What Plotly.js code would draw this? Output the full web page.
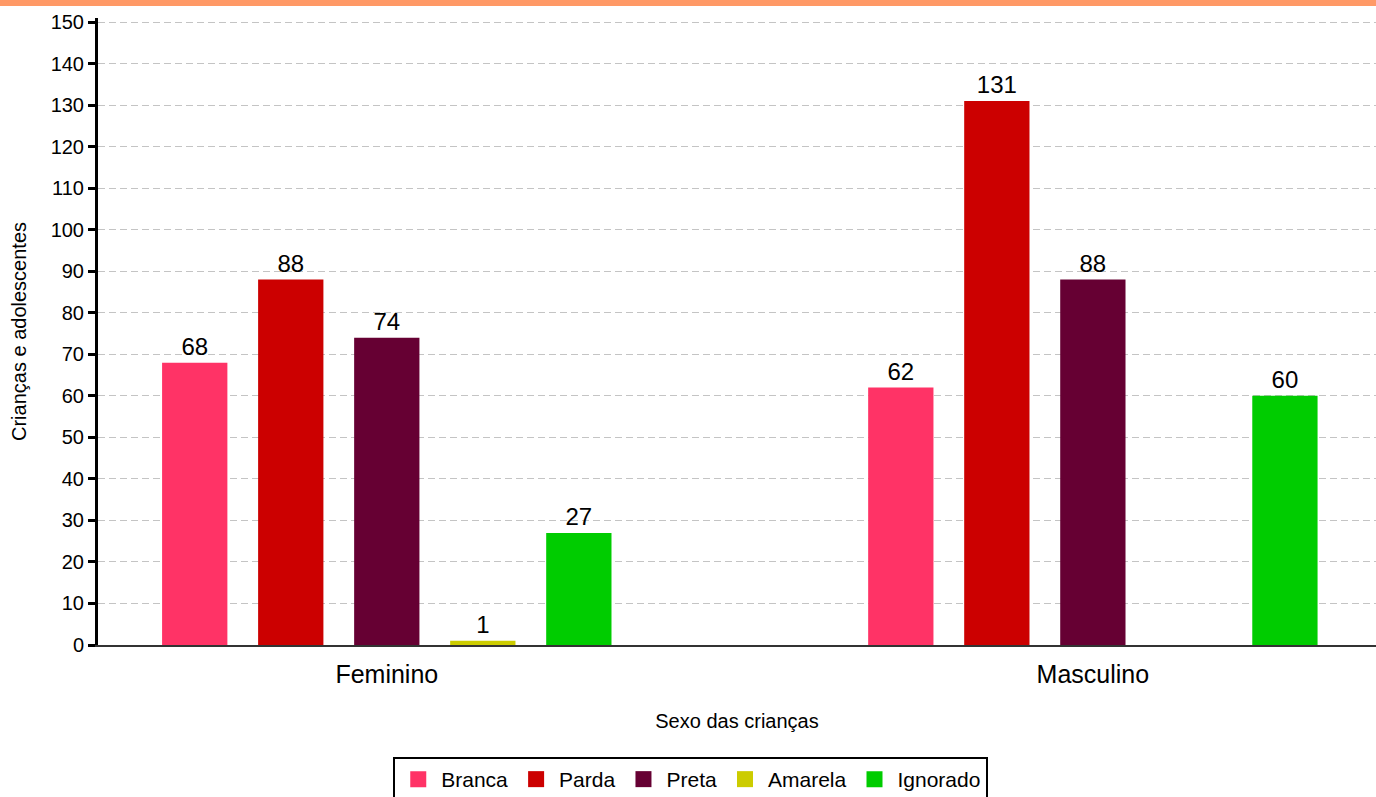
<!DOCTYPE html>
<html><head><meta charset="utf-8">
<script src="https://cdn.plot.ly/plotly-3.0.1.min.js"></script>
<style>html,body{margin:0;padding:0;background:#fff;}#chart{width:1376px;height:797px;}</style>
</head><body><div id="chart"></div>
<script>
const categories = ["Feminino", "Masculino"];
const seriesNames = ["Branca", "Parda", "Preta", "Amarela", "Ignorado"];
const branca = [68, 62];
const parda = [88, 131];
const preta = [74, 88];
const amarela = [1, 0];
const ignorado = [27, 60];
const colors = ["#FF3366", "#CC0000", "#660033", "#CCCC00", "#00CC00"];
const yTicks = [0,10,20,30,40,50,60,70,80,90,100,110,120,130,140,150];

const FONT = "Liberation Sans, Arial, sans-serif";
const values = [branca, parda, preta, amarela, ignorado];
const traces = values.map((v, i) => ({
  type: "bar", name: seriesNames[i], x: categories, y: v,
  legendgroup: seriesNames[i], showlegend: false,
  marker: {color: colors[i]},
  text: v.map(n => n > 0 ? String(n) : ""),
  textposition: "outside", cliponaxis: false,
  textfont: {family: FONT, size: 24, color: "#000"},
  hoverinfo: "x+y+name"
}));
// legend entries with larger square swatches
seriesNames.forEach((name, i) => {
  traces.push({
    type: "scatter", mode: "markers", name: name, legendgroup: name,
    x: [categories[0]], y: [null],
    marker: {symbol: "square", size: 16, color: colors[i]},
    hoverinfo: "skip", showlegend: true
  });
});

const layout = {
  width: 1376, height: 797,
  margin: {l: 98, r: 0, t: 18, b: 152},
  paper_bgcolor: "#fff", plot_bgcolor: "#fff",
  font: {family: FONT, color: "#000"},
  barmode: "group", bargap: 0.32, bargroupgap: 0.32,
  showlegend: true,
  legend: {orientation: "h", xref: "container", yref: "container",
    x: 0.502, xanchor: "center", y: 0.0502, yanchor: "top",
    bordercolor: "#000", borderwidth: 2, font: {family: FONT, size: 21}, traceorder: "normal",
    itemwidth: 36},
  xaxis: {range: [-0.409, 1.401], showline: true, linecolor: "#333", linewidth: 2,
    ticks: "", tickfont: {family: FONT, size: 25}, ticklabelstandoff: 6,
    showgrid: false, zeroline: false,
    title: {text: "Sexo das crianças", font: {family: FONT, size: 20}, standoff: 27}},
  yaxis: {range: [0, 151], tickvals: yTicks, ticktext: yTicks.map(String),
    showline: true, linecolor: "#000", linewidth: 3, ticks: "outside", ticklen: 7,
    tickwidth: 3, tickcolor: "#000", tickfont: {family: FONT, size: 20},
    showgrid: true, gridcolor: "#c4c4c4", griddash: "7px,4px", gridwidth: 1, zeroline: false,
    title: {text: "Crianças e adolescentes", font: {family: FONT, size: 20}, standoff: 19}},
  shapes: [{type: "rect", xref: "paper", yref: "paper", x0: -0.08, x1: 1.0,
    y0: 1.0191, y1: 1.04, fillcolor: "#FF9966", line: {width: 0}, layer: "above"}]
};
Plotly.newPlot("chart", traces, layout, {displayModeBar: false});
</script></body></html>
